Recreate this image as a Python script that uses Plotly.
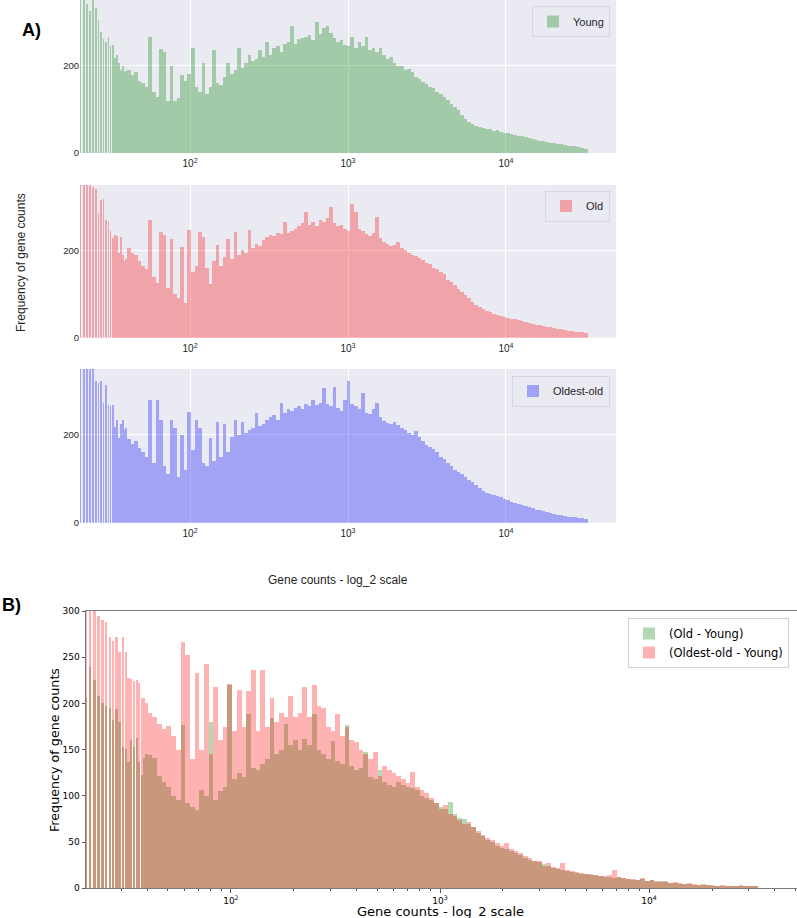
import numpy as np
import plotly.graph_objects as go

# ---------------- data ----------------
# Discrete low counts (one bar per integer gene count)
INT_COUNTS = list(range(20, 40))
# Log-spaced histogram bins for higher counts
BIN_LO, BIN_HI, N_BINS = 40, 33000, 130
INT_BIN_WIDTH = 0.0107  # width of one histogram bin, log10 units

YOUNG_INT = [380, 380, 340, 324, 360, 332, 304, 277, 260, 255,
             265, 245, 248, 218, 225, 206, 190, 198, 185, 188]
YOUNG = [190, 178, 185, 165, 160, 150, 265, 140, 128, 237,
         232, 120, 200, 118, 125, 178, 165, 180, 240, 150,
         140, 205, 135, 150, 235, 160, 155, 175, 205, 180,
         190, 240, 195, 205, 225, 210, 215, 235, 220, 255,
         225, 240, 245, 230, 250, 255, 290, 250, 260, 262,
         265, 270, 258, 300, 272, 285, 290, 275, 262, 255,
         258, 248, 245, 265, 240, 255, 245, 265, 235, 240,
         230, 240, 225, 215, 220, 205, 198, 200, 190, 192,
         185, 175, 170, 162, 158, 152, 148, 140, 135, 128,
         122, 112, 105, 98, 88, 78, 70, 66, 62, 60,
         58, 56, 54, 50, 52, 48, 46, 45, 44, 42,
         40, 38, 36, 35, 32, 30, 28, 27, 26, 24,
         22, 20, 21, 18, 17, 16, 15, 14, 12, 10]

OLD_INT = [380, 380, 380, 360, 345, 340, 285, 315, 318, 270,
           268, 245, 228, 236, 232, 195, 230, 190, 175, 180]
OLD = [205, 195, 190, 175, 165, 158, 270, 140, 125, 243,
       235, 115, 227, 100, 92, 208, 80, 248, 150, 165,
       243, 231, 160, 124, 175, 212, 165, 185, 227, 180,
       243, 190, 200, 195, 246, 205, 215, 210, 225, 230,
       235, 232, 240, 238, 265, 240, 245, 250, 255, 262,
       288, 258, 265, 255, 270, 265, 275, 300, 262, 255,
       258, 250, 245, 307, 288, 250, 245, 238, 232, 240,
       277, 228, 220, 215, 210, 212, 220, 205, 200, 195,
       190, 188, 182, 178, 172, 168, 160, 158, 150, 145,
       132, 128, 120, 112, 105, 98, 90, 82, 75, 70,
       65, 62, 58, 55, 52, 50, 48, 46, 44, 42,
       40, 38, 36, 34, 32, 30, 28, 27, 25, 24,
       22, 21, 19, 18, 16, 15, 14, 13, 12, 10]

OLDEST_INT = [380, 380, 380, 370, 355, 322, 318, 322, 272, 314,
              268, 265, 268, 219, 234, 192, 225, 235, 210, 215]
OLDEST = [190, 180, 185, 170, 160, 150, 280, 135, 280, 234,
          128, 110, 234, 215, 105, 200, 120, 253, 165, 234,
          215, 135, 128, 192, 140, 230, 150, 225, 160, 196,
          234, 200, 230, 205, 210, 215, 250, 220, 225, 235,
          240, 245, 235, 272, 250, 258, 255, 262, 265, 260,
          270, 265, 280, 268, 272, 306, 270, 265, 310, 262,
          255, 280, 322, 270, 265, 258, 295, 250, 248, 260,
          272, 240, 232, 228, 225, 230, 222, 215, 210, 205,
          200, 208, 195, 185, 178, 172, 168, 160, 150, 145,
          135, 128, 120, 115, 110, 105, 98, 92, 85, 78,
          72, 68, 65, 62, 60, 58, 55, 52, 48, 45,
          42, 40, 38, 35, 33, 30, 28, 26, 24, 22,
          20, 18, 17, 15, 14, 13, 12, 11, 10, 9]

DIFF_OLD_INT = [206, 239, 225, 208, 200, 197, 195, 182, 194, 180,
                153, 151, 137, 160, 153, 163, 137, 123, 141, 145]
DIFF_OLD = [144, 141, 121, 115, 110, 100, 95, 177, 92, 88,
            85, 106, 100, 180, 95, 105, 110, 220, 118, 125,
            120, 189, 130, 128, 135, 140, 184, 145, 150, 178,
            155, 160, 150, 162, 155, 189, 150, 145, 140, 159,
            138, 135, 177, 132, 128, 130, 148, 120, 118, 128,
            115, 112, 110, 115, 112, 110, 108, 106, 100, 98,
            95, 92, 88, 86, 93, 80, 76, 75, 70, 66,
            60, 57, 52, 50, 46, 44, 42, 40, 38, 36,
            33, 31, 30, 28, 26, 24, 22, 21, 20, 19,
            18, 17, 16, 15, 14, 14, 13, 12, 12, 11,
            12, 11, 10, 9, 9, 10, 8, 9, 7, 8,
            7, 6, 6, 5, 5, 5, 4, 4, 4, 4,
            3, 3, 3, 3, 2, 3, 2, 2, 2, 2]

DIFF_OLDEST_INT = [320, 310, 300, 295, 290, 288, 272, 268, 272, 256,
                   272, 256, 227, 226, 224, 225, 222, 206, 206, 200]
DIFF_OLDEST = [190, 185, 178, 172, 176, 165, 150, 266, 252, 140,
               233, 150, 243, 145, 218, 160, 175, 221, 170, 215,
               175, 213, 236, 170, 236, 175, 206, 180, 190, 185,
               208, 185, 190, 218, 185, 220, 197, 195, 175, 170,
               189, 165, 175, 160, 158, 150, 145, 140, 148, 122,
               132, 128, 125, 122, 118, 114, 126, 110, 106, 103,
               98, 92, 86, 90, 80, 78, 74, 70, 72, 66,
               62, 58, 54, 52, 49, 46, 49, 42, 40, 38,
               35, 33, 30, 29, 24, 27, 23, 22, 27, 20,
               19, 18, 17, 16, 15, 14, 13, 13, 14, 20,
               12, 11, 10, 10, 9, 11, 8, 9, 8, 7,
               8, 6, 7, 6, 5, 6, 5, 4, 5, 4,
               4, 3, 4, 3, 3, 3, 4, 2, 3, 2]

MAJOR_TICKS = [100, 1000, 10000]
MAJOR_TEXT = ["10<sup>2</sup>", "10<sup>3</sup>", "10<sup>4</sup>"]

# ---------------- geometry helpers ----------------
W, H = 797, 918


def px(x):
    return x / W


def py(y):
    return 1 - y / H


edges = np.linspace(np.log10(BIN_LO), np.log10(BIN_HI), N_BINS + 1)
centers = (edges[:-1] + edges[1:]) / 2
widths = np.diff(edges)
x_all = list(np.log10(INT_COUNTS) + INT_BIN_WIDTH / 2) + list(centers)
w_all = [INT_BIN_WIDTH] * len(INT_COUNTS) + list(widths)

major_vals = list(np.log10(MAJOR_TICKS))
minor_vals = [float(np.log10(k * 10 ** p)) for p in (1, 2, 3, 4) for k in range(2, 10)]

SEA_FONT = "Liberation Sans, Arial, sans-serif"
MPL_FONT = "DejaVu Sans, sans-serif"
SEA_TXT = "#262626"

fig = go.Figure()

panelA = [
    ("Young", YOUNG_INT + YOUNG, "green", "x", "y", "legend"),
    ("Old", OLD_INT + OLD, "red", "x2", "y2", "legend2"),
    ("Oldest-old", OLDEST_INT + OLDEST, "blue", "x3", "y3", "legend3"),
]
for name, vals, col, xa, ya, lg in panelA:
    fig.add_trace(go.Bar(x=x_all, y=vals, width=w_all, name=name,
                         marker=dict(color=col, line=dict(width=0)),
                         opacity=0.3, xaxis=xa, yaxis=ya, legend=lg,
                         showlegend=True, hoverinfo="skip"))

fig.add_trace(go.Bar(x=x_all, y=DIFF_OLD_INT + DIFF_OLD, width=w_all,
                     name="(Old - Young)",
                     marker=dict(color="green", line=dict(width=0)),
                     opacity=0.3, xaxis="x4", yaxis="y4", legend="legend4",
                     showlegend=True, hoverinfo="skip"))
fig.add_trace(go.Bar(x=x_all, y=DIFF_OLDEST_INT + DIFF_OLDEST, width=w_all,
                     name="(Oldest-old - Young)",
                     marker=dict(color="red", line=dict(width=0)),
                     opacity=0.3, xaxis="x4", yaxis="y4", legend="legend4",
                     showlegend=True, hoverinfo="skip"))

# Panel A axes
A_X = [px(80), px(616)]
A_Y = [(153, 0), (337.7, 185), (522.7, 369)]
layout = dict(
    width=W, height=H, margin=dict(l=0, r=0, t=0, b=0, autoexpand=False),
    paper_bgcolor="white", plot_bgcolor="white",
    barmode="overlay", bargap=0, showlegend=True,
    shapes=[], annotations=[],
)
for i, (yb, yt) in enumerate(A_Y):
    sfx = "" if i == 0 else str(i + 1)
    layout["xaxis" + sfx] = dict(
        domain=A_X, anchor="y" + sfx, range=[1.303, 4.697],
        tickmode="array", tickvals=major_vals, ticktext=MAJOR_TEXT,
        showgrid=True, gridcolor="white", gridwidth=1, zeroline=False,
        showline=False, ticks="", ticklabelstandoff=3,
        tickfont=dict(family=SEA_FONT, size=10, color=SEA_TXT),
    )
    layout["yaxis" + sfx] = dict(
        domain=[py(yb), py(yt)], anchor="x" + sfx, range=[0, 350],
        tickmode="array", tickvals=[0, 200],
        showgrid=True, gridcolor="white", gridwidth=1, zeroline=False,
        showline=False, ticks="", tickfont=dict(family=SEA_FONT, size=9.5, color=SEA_TXT),
    )
    layout["shapes"].append(dict(type="rect", xref="x" + sfx + " domain", yref="y" + sfx + " domain",
                                 x0=0, x1=1, y0=0, y1=1, fillcolor="#EAEAF2",
                                 line=dict(width=0), layer="below"))

# Panel B axes
layout["xaxis4"] = dict(
    domain=[px(86), px(796.5)], anchor="y4", range=[1.307, 4.705],
    tickmode="array", tickvals=major_vals, ticktext=MAJOR_TEXT,
    showgrid=False, zeroline=False, showline=True, mirror=True,
    linecolor="#7a7a7a", linewidth=1, ticks="outside", ticklen=3.5,
    tickcolor="#555", tickwidth=1,
    minor=dict(tickvals=minor_vals, ticks="outside", ticklen=2, tickcolor="#555", tickwidth=1),
    tickfont=dict(family=MPL_FONT, size=9, color="black"),
)
layout["yaxis4"] = dict(
    domain=[py(888.3), py(611)], anchor="x4", range=[0, 300],
    tickmode="linear", tick0=0, dtick=50,
    showgrid=False, zeroline=False, showline=True, mirror=True,
    linecolor="#7a7a7a", linewidth=1, ticks="outside", ticklen=3.5,
    tickcolor="#555", tickwidth=1,
    tickfont=dict(family=MPL_FONT, size=9, color="black"),
)

# Legends
leg_a = dict(xanchor="right", yanchor="top", bgcolor="#EAEAF2", bordercolor="#d6d6de",
             borderwidth=1, font=dict(family=SEA_FONT, size=11, color=SEA_TXT),
             itemclick=False, itemdoubleclick=False, visible=True)
layout["legend"] = dict(leg_a, x=px(610), y=py(6))
layout["legend2"] = dict(leg_a, x=px(610), y=py(190.5))
layout["legend3"] = dict(leg_a, x=px(610), y=py(375.5))
layout["legend4"] = dict(xanchor="right", yanchor="top", x=px(789), y=py(618),
                         bgcolor="white", bordercolor="#d0d0d0", borderwidth=1,
                         font=dict(family=MPL_FONT, size=11.5, color="black"),
                         tracegroupgap=0, visible=True)

ann = layout["annotations"]
ann.append(dict(text="<b>A)</b>", x=px(20), y=py(30), xref="paper", yref="paper",
                xanchor="left", yanchor="middle", showarrow=False,
                font=dict(family=SEA_FONT, size=18, color="black")))
ann.append(dict(text="<b>B)</b>", x=px(0), y=py(605), xref="paper", yref="paper",
                xanchor="left", yanchor="middle", showarrow=False,
                font=dict(family=SEA_FONT, size=18, color="black")))
ann.append(dict(text="Frequency of gene counts", x=px(21), y=py(263), xref="paper", yref="paper",
                xanchor="center", yanchor="middle", showarrow=False, textangle=-90,
                font=dict(family=SEA_FONT, size=12, color=SEA_TXT)))
ann.append(dict(text="Gene counts - log_2 scale", x=px(338), y=py(580), xref="paper", yref="paper",
                xanchor="center", yanchor="middle", showarrow=False,
                font=dict(family=SEA_FONT, size=12, color=SEA_TXT)))
ann.append(dict(text="Frequency of gene counts", x=px(54), y=py(750), xref="paper", yref="paper",
                xanchor="center", yanchor="middle", showarrow=False, textangle=-90,
                font=dict(family=MPL_FONT, size=12.7, color="black")))
ann.append(dict(text="Gene counts - log_2 scale", x=px(441), y=py(911), xref="paper", yref="paper",
                xanchor="center", yanchor="middle", showarrow=False,
                font=dict(family=MPL_FONT, size=13, color="black")))

fig.update_layout(**layout)
fig.write_html("out.html",
               config={"displayModeBar": False, "staticPlot": True},
               post_script="document.body.style.margin='0px';"
                           "document.body.style.overflow='hidden';")
